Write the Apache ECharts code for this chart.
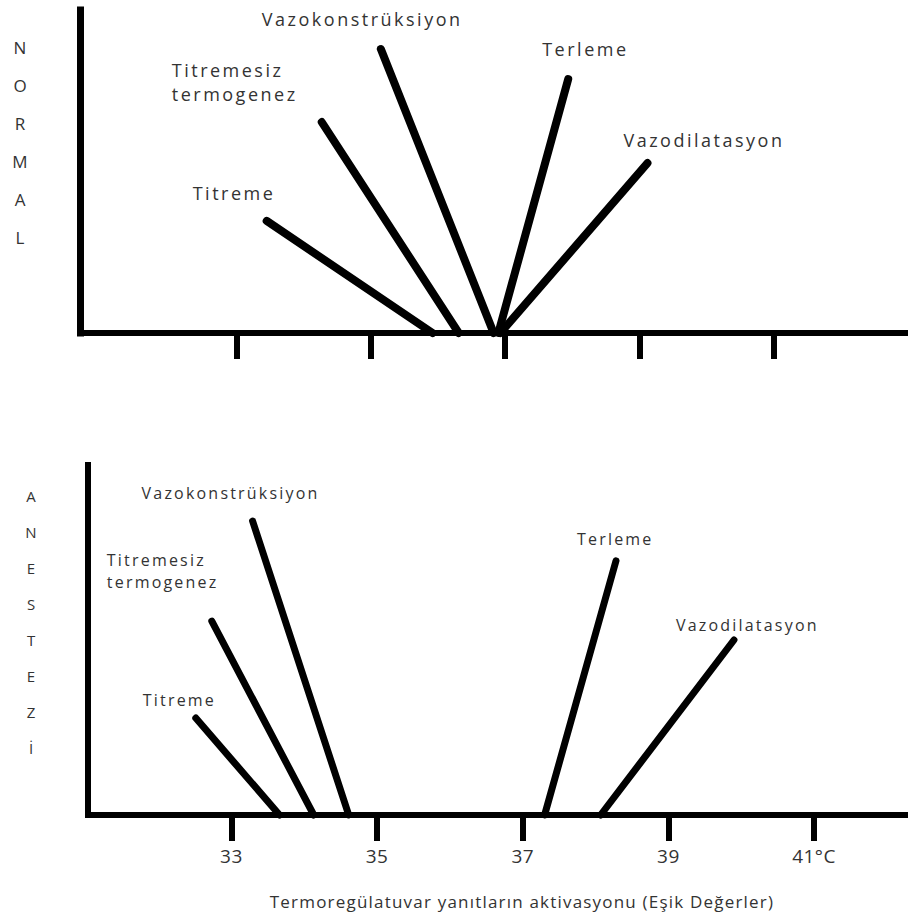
<!DOCTYPE html>
<html><head><meta charset="utf-8">
<script src="https://cdn.jsdelivr.net/npm/echarts@6/dist/echarts.min.js"></script>
<style>html,body{margin:0;padding:0;background:#fff}#chart{width:908px;height:916px}</style>
</head><body><div id="chart"></div>
<script>
// ---- data ----
const tempTicks = [33, 35, 37, 39, 41];
const responseNames = ['Titreme', 'Titremesiz\ntermogenez', 'Vazokonstrüksiyon', 'Terleme', 'Vazodilatasyon'];
// NORMAL: activation threshold (°C, where each line meets the axis) and end point of the response line
const normalThreshold = [35.92, 36.31, 36.83, 36.90, 36.93];
const normalEndTemp   = [33.45, 34.27, 35.15, 37.94, 39.12];
const normalEndLevel  = [3.47, 6.53, 8.79, 7.86, 5.26];
// ANESTEZİ
const anesThreshold = [33.66, 34.13, 34.61, 37.30, 38.07];
const anesEndTemp   = [32.51, 32.73, 33.29, 38.28, 39.90];
const anesEndLevel  = [2.77, 5.54, 8.40, 7.26, 5.00];
const normalLetters = ['N', 'O', 'R', 'M', 'A', 'L'];
const anesLetters = ['A', 'N', 'E', 'S', 'T', 'E', 'Z', 'İ'];
const xTitle = 'Termoregülatuvar yanıtların aktivasyonu (Eşik Değerler)';

// ---- layout (label offsets from line end, px) ----
const topLabelOffsets = [[-74, -28], [-150, -40], [-119, -30], [-26, -30], [-24, -23]];
const botLabelOffsets = [[-53, -18], [-105, -50], [-111, -28], [-39, -22], [-58, -15]];

const FONT = 'Open Sans';

function makeSeries(g, thr, endT, endL, offs, fontSize, lineW, lineH) {
  return responseNames.map((name, i) => ({
    type: 'line', name: name, xAxisIndex: g, yAxisIndex: g,
    symbol: 'circle', symbolSize: 1, showSymbol: true, silent: true, clip: false,
    lineStyle: { color: '#000', width: lineW, cap: 'round' },
    itemStyle: { color: '#000' },
    data: [
      { value: [thr[i], 0] },
      { value: [endT[i], endL[i]],
        label: { show: true, formatter: name, position: 'inside', offset: offs[i],
          align: 'left', verticalAlign: 'middle', color: '#333',
          fontSize: fontSize, fontFamily: FONT, lineHeight: lineH } }
    ]
  }));
}

function xAxisCfg(g, min, max, showLabels) {
  return {
    gridIndex: g, type: 'value', min: min, max: max,
    axisLine: { show: true, lineStyle: { color: '#000', width: 6, cap: 'square' } },
    axisTick: { show: true, customValues: tempTicks, length: 26, lineStyle: { color: '#000', width: 6 } },
    axisLabel: showLabels ? {
      show: true, customValues: tempTicks, margin: 31, fontSize: 19, color: '#333', fontFamily: FONT,
      formatter: v => (v === 41 ? '41°C' : String(v))
    } : { show: false },
    splitLine: { show: false }
  };
}

function yAxisCfg(g, width) {
  return {
    gridIndex: g, type: 'value', min: 0, max: 10,
    axisLine: { show: true, lineStyle: { color: '#000', width: width, cap: 'square' } },
    axisTick: { show: false }, axisLabel: { show: false }, splitLine: { show: false }
  };
}

const chart = echarts.init(document.getElementById('chart'), null, { renderer: 'svg' });
const xBottom = xAxisCfg(1, 31.03, 42.29, true);
xBottom.name = xTitle;
xBottom.nameLocation = 'middle';
xBottom.nameGap = 78;
xBottom.nameTextStyle = { fontSize: 17, color: '#333', fontFamily: FONT, padding: [0, 0, 0, 48] };

chart.setOption({
  animation: false,
  backgroundColor: '#fff',
  grid: [
    { left: 80, right: 0, top: 10, bottom: 583 },
    { left: 88, right: 0, top: 465, bottom: 101 }
  ],
  xAxis: [xAxisCfg(0, 30.67, 43.0, false), xBottom],
  yAxis: [yAxisCfg(0, 7), yAxisCfg(1, 6)],
  graphic: [
    { type: 'text', x: 20, y: 142, silent: true,
      style: { text: normalLetters.join('\n'), align: 'center', verticalAlign: 'middle',
        fontSize: 17, lineHeight: 38, fill: '#333', fontFamily: FONT } },
    { type: 'text', x: 31, y: 622, silent: true,
      style: { text: anesLetters.join('\n'), align: 'center', verticalAlign: 'middle',
        fontSize: 15, lineHeight: 36, fill: '#333', fontFamily: FONT } }
  ],
  series: [].concat(
    makeSeries(0, normalThreshold, normalEndTemp, normalEndLevel, topLabelOffsets, 18, 8, 24),
    makeSeries(1, anesThreshold, anesEndTemp, anesEndLevel, botLabelOffsets, 16, 7, 22)
  )
});

function applySpacing() {
  const map = { 18: '2.5px', 19: '0.5px' };
  document.querySelectorAll('#chart text').forEach(t => {
    const fs = Math.round(parseFloat(getComputedStyle(t).fontSize));
    const txt = t.textContent;
    if (txt.length <= 1) return;
    if (fs === 16) t.style.letterSpacing = '2.2px';
    else if (fs === 17) t.style.letterSpacing = '1.2px';
    else if (map[fs]) t.style.letterSpacing = map[fs];
  });
}
chart.on('finished', applySpacing);
applySpacing();
</script>
</body></html>
